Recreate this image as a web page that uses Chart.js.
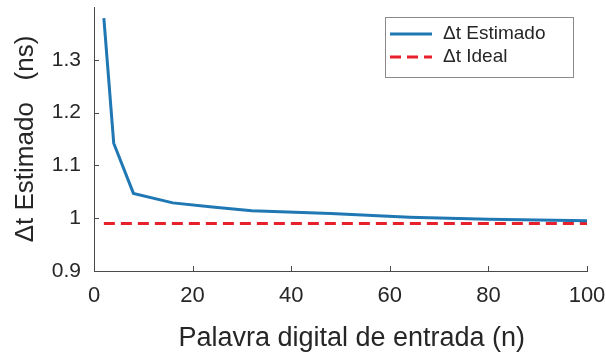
<!DOCTYPE html>
<html>
<head>
<meta charset="utf-8">
<script src="https://cdn.jsdelivr.net/npm/chart.js@4.4.1/dist/chart.umd.min.js"></script>
<style>
  html, body { margin: 0; padding: 0; background: #ffffff; }
  #wrap { width: 606px; height: 355px; }
</style>
</head>
<body>
<div id="wrap"><canvas id="chart" width="606" height="355"></canvas></div>
<script>
// Word length n and the estimated time step (ns)
const wordSizes = [2, 4, 8, 16, 24, 32, 48, 64, 80, 100];
const estimatedDelta = [1.379, 1.142, 1.047, 1.029, 1.021, 1.014, 1.009, 1.002, 0.998, 0.995];
// Ideal time step (ns), constant over the same range
const idealN = [2, 100];
const idealDelta = [0.99, 0.99];
// Axis tick values
const xTicks = [0, 20, 40, 60, 80, 100];
const yTicks = [0.9, 1.0, 1.1, 1.2, 1.3];

const FONT = "'Liberation Sans', Arial, sans-serif";
const TEXT = '#262626';
const AXIS = '#4a4a4a';

const toPoints = (xs, ys) => xs.map((x, i) => ({ x: x, y: ys[i] }));

// Inward tick marks and the legend box drawn on top of the chart area
const decorations = {
  id: 'decorations',
  afterDraw(chart) {
    const ctx = chart.ctx;
    const xs = chart.scales.x, ys = chart.scales.y;
    const a = chart.chartArea;
    ctx.save();
    ctx.strokeStyle = AXIS;
    ctx.lineWidth = 1;
    ctx.beginPath();
    xTicks.forEach(v => {
      const px = Math.round(xs.getPixelForValue(v)) + 0.5;
      ctx.moveTo(px, a.bottom);
      ctx.lineTo(px, a.bottom - 5);
    });
    yTicks.forEach(v => {
      const py = Math.round(ys.getPixelForValue(v)) + 0.5;
      ctx.moveTo(a.left, py);
      ctx.lineTo(a.left + 5, py);
    });
    ctx.stroke();

    // legend
    const bx = 385.5, by = 17.5, bw = 188, bh = 60;
    ctx.fillStyle = '#ffffff';
    ctx.fillRect(bx, by, bw, bh);
    ctx.strokeStyle = '#8a8a8a';
    ctx.lineWidth = 1;
    ctx.strokeRect(bx, by, bw, bh);
    ctx.font = '19px ' + FONT;
    ctx.textBaseline = 'middle';
    ctx.fillStyle = TEXT;
    chart.data.datasets.forEach((ds, i) => {
      const cy = 34 + i * 23;
      ctx.save();
      ctx.strokeStyle = ds.borderColor;
      ctx.lineWidth = ds.borderWidth;
      ctx.setLineDash(ds.borderDash || []);
      ctx.beginPath();
      ctx.moveTo(390, cy);
      ctx.lineTo(432, cy);
      ctx.stroke();
      ctx.restore();
      ctx.fillText(ds.label, 443, cy);
    });
    ctx.restore();
  }
};

new Chart(document.getElementById('chart'), {
  type: 'line',
  data: {
    datasets: [
      {
        label: 'Δt Estimado',
        data: toPoints(wordSizes, estimatedDelta),
        borderColor: '#1f77b4',
        borderWidth: 3,
        pointRadius: 0,
        tension: 0,
        fill: false
      },
      {
        label: 'Δt Ideal',
        data: toPoints(idealN, idealDelta),
        borderColor: '#e8202b',
        borderWidth: 3,
        borderDash: [11, 6],
        pointRadius: 0,
        fill: false
      }
    ]
  },
  options: {
    responsive: false,
    animation: false,
    layout: { padding: { top: 7, right: 19, left: 0, bottom: 0 } },
    plugins: {
      legend: { display: false },
      tooltip: { enabled: false }
    },
    scales: {
      x: {
        type: 'linear',
        min: 0,
        max: 100,
        afterBuildTicks: s => { s.ticks = xTicks.map(v => ({ value: v })); },
        afterFit: s => { s.height = 84; s.paddingLeft = 0; s.paddingRight = 0; },
        border: { display: true, color: AXIS, width: 1 },
        grid: { display: false, drawTicks: false },
        ticks: {
          padding: 12,
          color: TEXT,
          font: { family: FONT, size: 22 },
          maxRotation: 0,
          callback: v => String(v)
        },
        title: {
          display: true,
          text: '   Palavra digital de entrada (n)',
          color: TEXT,
          font: { family: FONT, size: 27 },
          padding: { top: 0, bottom: 0 }
        }
      },
      y: {
        type: 'linear',
        min: 0.9,
        max: 1.4,
        afterBuildTicks: s => { s.ticks = yTicks.map(v => ({ value: v })); },
        afterFit: s => { s.width = 94; s.paddingTop = 0; s.paddingBottom = 0; },
        border: { display: true, color: AXIS, width: 1 },
        grid: { display: false, drawTicks: false },
        ticks: {
          padding: 13,
          color: TEXT,
          font: { family: FONT, size: 21 },
          callback: v => String(+v.toFixed(1))
        },
        title: {
          display: true,
          text: 'Δt Estimado   (ns)',
          color: TEXT,
          font: { family: FONT, size: 26 },
          padding: { top: 10, bottom: 0 }
        }
      }
    }
  },
  plugins: [decorations]
});
</script>
</body>
</html>
